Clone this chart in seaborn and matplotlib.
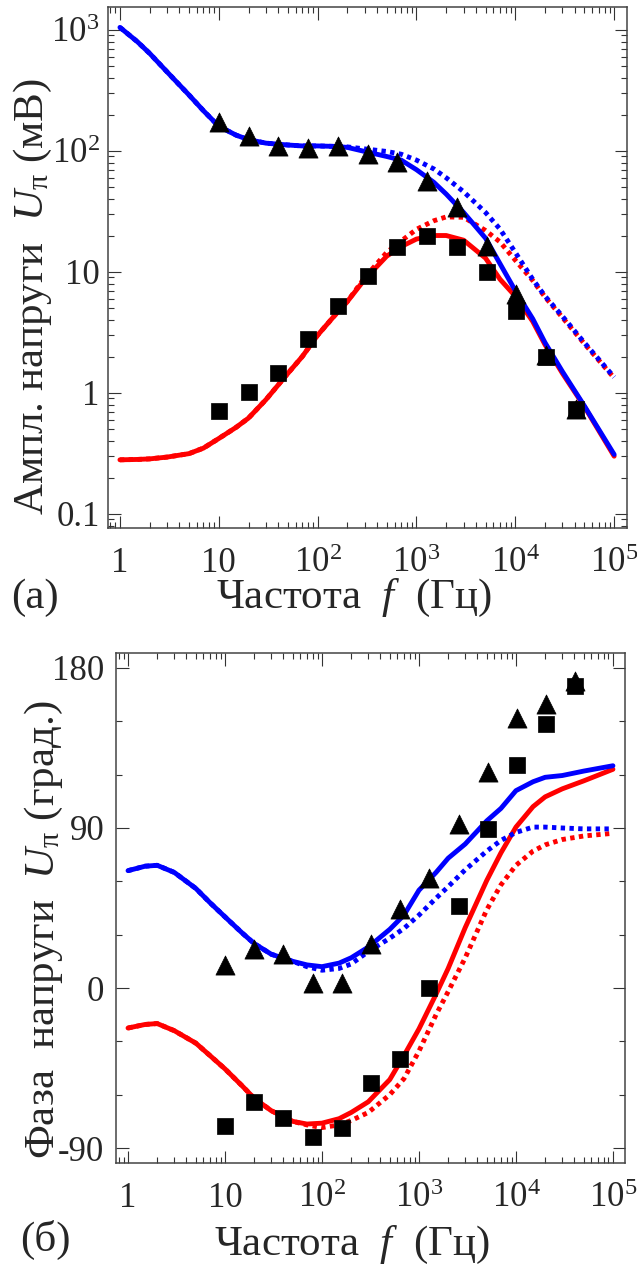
import numpy as np
import pandas as pd
import seaborn as sns
import matplotlib
matplotlib.use('Agg')
import matplotlib.pyplot as plt
from matplotlib.ticker import LogLocator, MultipleLocator, NullFormatter

# Частоты модели (Гц) и частоты эксперимента
freq_model = [1, 1.5, 2, 3, 5, 7, 10, 15, 20, 30, 50, 70, 100, 150, 200, 300, 500, 700,
              1000, 1500, 2000, 3000, 5000, 7000, 10000, 15000, 20000, 30000, 50000, 100000]
freq_exp = [10, 20, 40, 80, 160, 320, 640, 1280, 2560, 5120, 10240, 20480, 40960]

# (а) амплитуда, мВ
amp_blue_solid = [1050, 800, 640, 450, 290, 215, 160, 135, 124, 116, 112, 110, 110, 109, 107,
                  99, 90, 84, 70, 55, 44, 31, 19, 11.7, 7.0, 4.1, 2.6, 1.5, 0.78, 0.31]
amp_blue_dot = [1050, 800, 640, 450, 290, 215, 160, 135, 124, 116, 112, 110, 110, 109, 108,
                104, 99, 94, 84, 71, 60, 46, 31, 22.6, 14.5, 8.7, 6.3, 4.3, 2.6, 1.35]
amp_red_solid = [0.28, 0.282, 0.285, 0.295, 0.315, 0.35, 0.42, 0.52, 0.62, 0.88, 1.45, 2.0, 3.0,
                 4.4, 5.7, 8.7, 13.5, 16.2, 18.7, 20, 20, 18.3, 13, 8.7, 6.3, 3.9, 2.5, 1.45,
                 0.77, 0.30]
amp_red_dot = [0.28, 0.282, 0.285, 0.295, 0.315, 0.35, 0.42, 0.52, 0.62, 0.88, 1.45, 2.0, 3.0,
               4.4, 5.7, 9.0, 14.5, 18, 22.5, 26.5, 28.5, 28.3, 22, 17.7, 12.5, 8.5, 6.2, 4.2,
               2.55, 1.33]
amp_triangles = [174, 133, 110, 106, 110, 94, 81, 56, 34.5, 16.4, 6.6, 2.05, 0.74]
amp_squares = [0.71, 1.02, 1.46, 2.8, 5.2, 9.3, 16, 20, 16, 10, 4.8, 2.0, 0.74]

# (б) фаза, град.
ph_blue_solid = [66, 68.5, 69, 65, 56, 48, 40, 31, 25, 19, 15, 13, 12, 14, 17, 23, 33, 41,
                 55, 65, 73, 81, 94, 101, 111, 116, 118.5, 119.5, 122, 125]
ph_blue_dot = [66, 68.5, 69, 65, 56, 48, 40, 31, 25, 19, 15, 12, 10, 11, 13.5, 20.5, 28, 33.5,
               41, 50.5, 57, 66.5, 77, 83, 87.5, 90.5, 90.5, 90, 89.5, 89.5]
ph_red_solid = [-22.5, -20.5, -20, -24, -31, -38, -45.5, -55, -62, -69, -75, -76.5, -76,
                -73.5, -70, -64, -51.5, -38, -23, -3.5, 11, 34, 60.5, 76, 90.5, 102, 107.5,
                112, 116.5, 123]
ph_red_dot = [-22.5, -20.5, -20, -24, -31, -38, -45.5, -55, -62, -69, -75, -77, -78.5, -77,
              -74.5, -70, -60, -51, -35.5, -15, -2, 17, 44, 58, 69, 77, 80.5, 83.5, 85.5, 87]
ph_triangles = [13, 22, 19, 3, 3, 24.6, 44.6, 62, 92, 121.5, 152, 160, 172.7]
ph_squares = [-77.6, -64, -73, -84, -79, -53.4, -40, 0, 46, 89.4, 125.4, 148.5, 170]

x_ticks = [1, 10, 100, 1000, 10000, 100000]
x_labels = ['1', '10', '$10^2$', '$10^3$', '$10^4$', '$10^5$']
amp_ticks = [0.1, 1, 10, 100, 1000]
amp_labels = ['0.1', '1', '10', '$10^2$', '$10^3$']
ph_ticks = [-90, 0, 90, 180]
ph_labels = ['-90', '0', '90', '180']

sns.set_style('ticks')
plt.rcParams['font.family'] = ['Liberation Serif', 'DejaVu Serif']
plt.rcParams['mathtext.fontset'] = 'custom'
plt.rcParams['mathtext.rm'] = 'Liberation Serif'
plt.rcParams['mathtext.it'] = 'Liberation Serif:italic'

fig = plt.figure(figsize=(6.37, 12.67), dpi=100)
ax1 = fig.add_axes([0.1695, 0.5833, 0.8148, 0.4112])
ax2 = fig.add_axes([0.1821, 0.0821, 0.7990, 0.4025])

lw = 3.5
dots = (0, (0.9, 0.9))


def draw(ax, y_bs, y_bd, y_rs, y_rd, y_tri, y_sq):
    sns.lineplot(x=freq_model, y=y_rd, ax=ax, color='red', lw=lw, linestyle=dots,
                 estimator=None, sort=False)
    sns.lineplot(x=freq_model, y=y_rs, ax=ax, color='red', lw=lw,
                 estimator=None, sort=False)
    sns.lineplot(x=freq_model, y=y_bd, ax=ax, color='blue', lw=lw, linestyle=dots,
                 estimator=None, sort=False)
    sns.lineplot(x=freq_model, y=y_bs, ax=ax, color='blue', lw=lw,
                 estimator=None, sort=False)
    sns.scatterplot(x=freq_exp, y=y_sq, ax=ax, marker='s', s=125, color='black',
                    edgecolor='black', linewidth=0.5, zorder=4)
    sns.scatterplot(x=freq_exp, y=y_tri, ax=ax, marker='^', s=190, color='black',
                    edgecolor='black', linewidth=0.5, zorder=4)


draw(ax1, amp_blue_solid, amp_blue_dot, amp_red_solid, amp_red_dot, amp_triangles, amp_squares)
draw(ax2, ph_blue_solid, ph_blue_dot, ph_red_solid, ph_red_dot, ph_triangles, ph_squares)

for ax in (ax1, ax2):
    ax.set_xscale('log')
    ax.set_xticks(x_ticks, x_labels)
    ax.xaxis.set_minor_locator(LogLocator(base=10, subs=np.arange(2, 10), numticks=30))
    ax.xaxis.set_minor_formatter(NullFormatter())
    ax.tick_params(which='both', direction='in', top=True, right=True, color='#333333',
                   width=0.8, labelsize=25)
    ax.tick_params(which='major', length=9)
    ax.tick_params(which='minor', length=4.5)
    for sp in ax.spines.values():
        sp.set_color('#444444')
        sp.set_linewidth(1.1)

ax1.set_xlim(10 ** -0.121, 10 ** 5.13)
ax1.set_yscale('log')
ax1.set_ylim(10 ** -1.116, 10 ** 3.19)
ax1.set_yticks(amp_ticks, amp_labels)
ax1.yaxis.set_minor_locator(LogLocator(base=10, subs=np.arange(2, 10), numticks=30))
ax1.yaxis.set_minor_formatter(NullFormatter())
ax1.tick_params(axis='x', pad=31.5)
ax1.tick_params(axis='y', pad=6)

ax2.set_xlim(10 ** -0.124, 10 ** 5.124)
ax2.set_ylim(-98.4, 188.4)
ax2.set_yticks(ph_ticks, ph_labels)
ax2.yaxis.set_minor_locator(MultipleLocator(30))
ax2.tick_params(axis='x', pad=32)
ax2.tick_params(axis='y', pad=8.5)

# подписи оси x выравниваем по базовой линии, как в оригинале
for ax in (ax1, ax2):
    plt.setp(ax.get_xticklabels(), va='baseline')

ax1.set_xlabel('Частота  $f$  (Гц)', fontsize=31, va='baseline')
ax1.xaxis.set_label_coords(0.473, -0.1536)
ax1.set_ylabel('Ампл. напруги  $U_{\\mathrm{\\pi}}$ (мВ)', fontsize=31, va='center')
ax1.yaxis.set_label_coords(-0.145, 0.445)

ax2.set_xlabel('Частота  $f$  (Гц)', fontsize=31, va='baseline')
ax2.xaxis.set_label_coords(0.463, -0.180)
ax2.set_ylabel('Фаза  напруги  $U_{\\mathrm{\\pi}}$ (град.)', fontsize=31, va='center')
ax2.yaxis.set_label_coords(-0.142, 0.457)

fig.text(35 / 637, 1 - 598 / 1267, '(а)', fontsize=31, ha='center', va='center')
fig.text(45 / 637, 1 - 1240 / 1267, '(б)', fontsize=31, ha='center', va='center')

fig.savefig('out.png', dpi=100)
